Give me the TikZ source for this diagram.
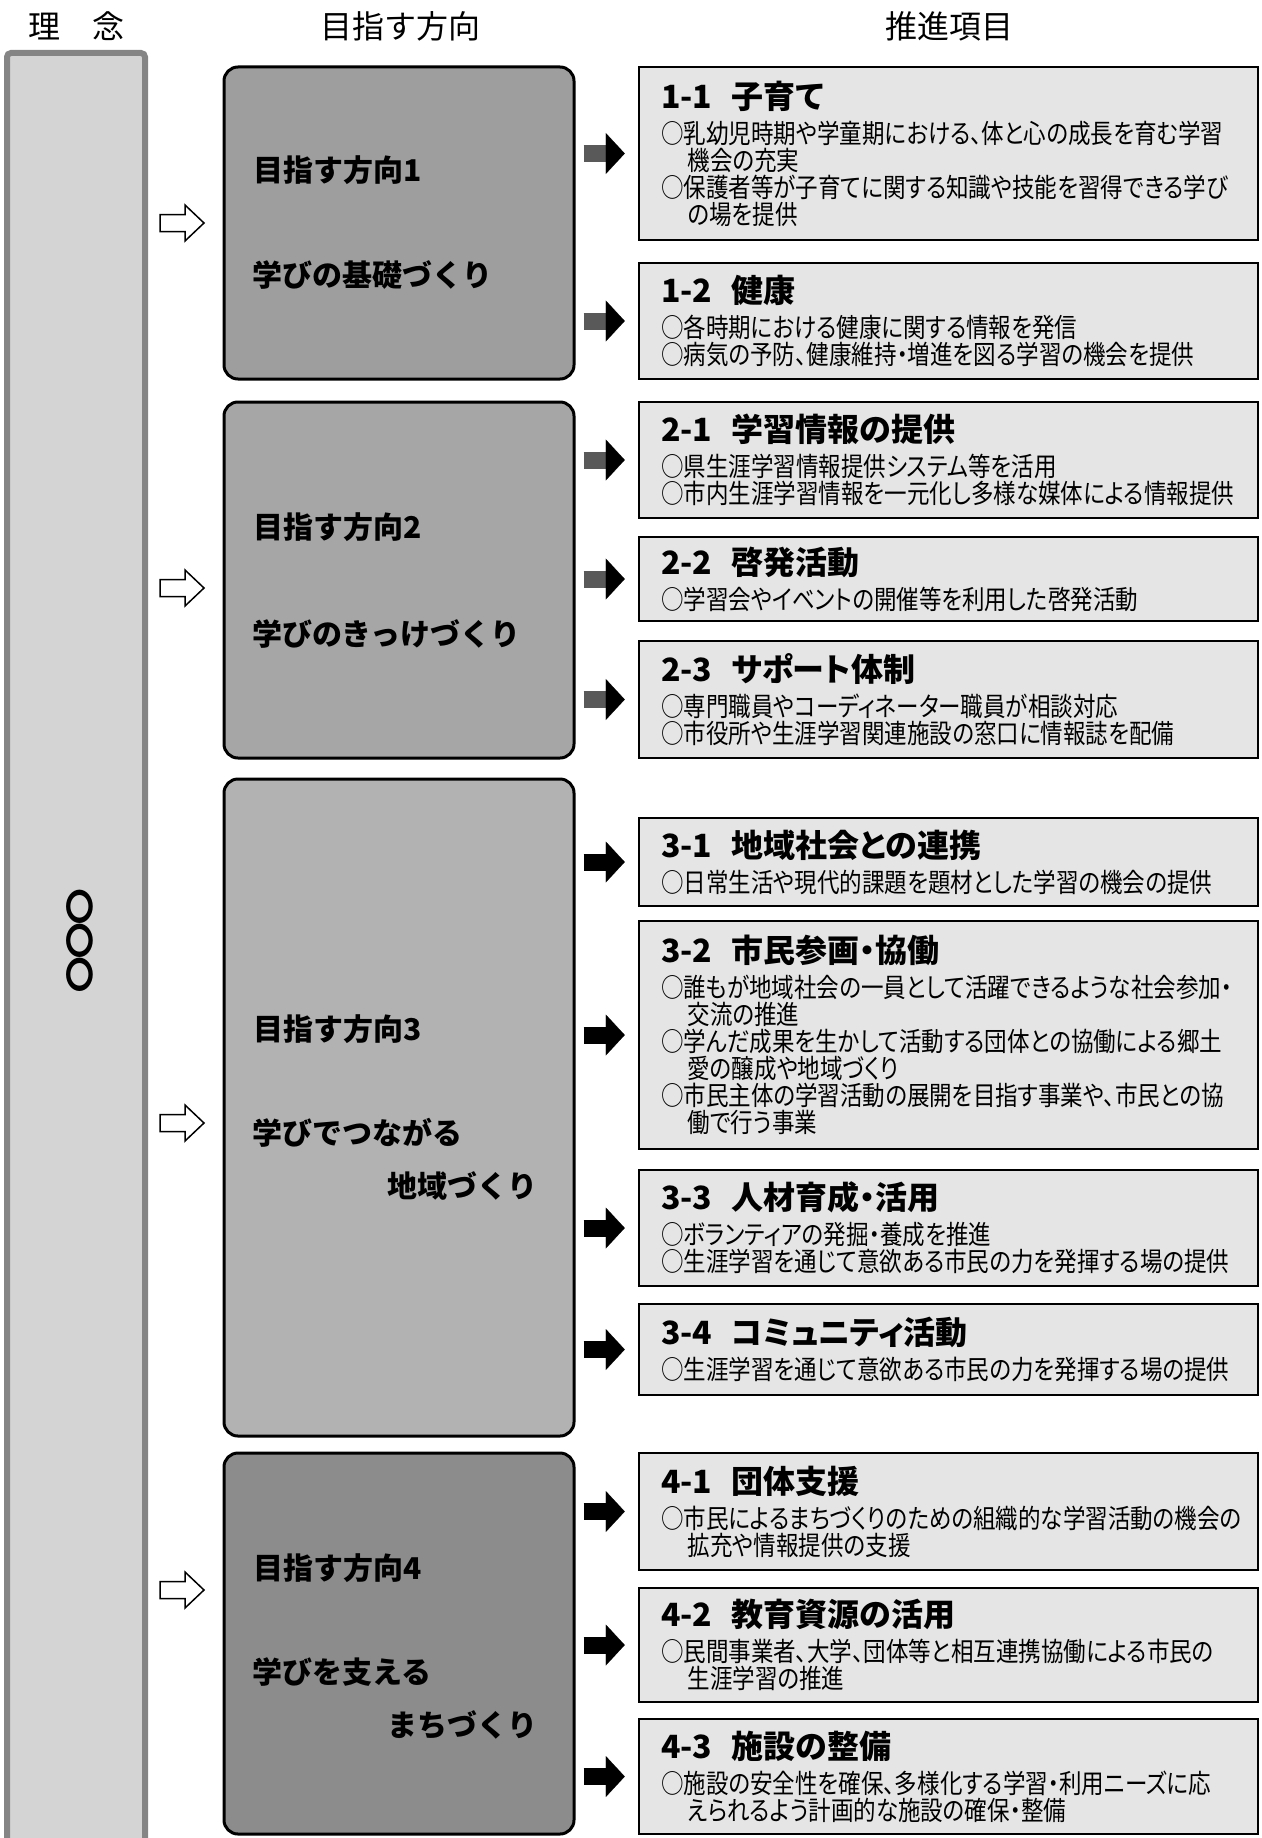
\documentclass[tikz,border=0pt]{standalone}
\usepackage{fontspec}
\setmainfont{Noto Sans CJK JP}
\newfontfamily\bodyfont[FakeStretch=0.85,RawFeature=+palt]{Noto Sans CJK JP}
\newfontfamily\titlefont[RawFeature=+palt]{Noto Sans CJK JP}
\newfontfamily\circfont[FakeStretch=0.8]{Noto Sans CJK JP}
\usepackage{tikz}
\usetikzlibrary{arrows.meta,calc}

\newcommand{\ind}{\hspace*{1em}}
\newcommand{\ttl}[2]{{\titlefont\bfseries\fontsize{32}{36}\selectfont #1\hspace{0.6em}#2}\\[8pt]}

\begin{document}
\begin{tikzpicture}[x=1pt, y=-1pt, semithick,
    itembox/.style={rectangle, draw=black, line width=2.5pt, fill=black!10, text width=575pt,
      inner xsep=22pt, inner ysep=0pt, align=left, font=\bodyfont\fontsize{26.5}{27}\selectfont},
    dirbox/.style={rectangle, draw=black, line width=3pt, rounded corners=14pt,
      minimum width=350pt, inner sep=0pt},
    dirlabel/.style={anchor=west, inner sep=0pt, font=\bfseries\fontsize{30}{30}\selectfont},
    header/.style={inner sep=0pt, font=\fontsize{32}{32}\selectfont},
    blackarrow/.style={line width=17pt, draw=black, shorten <=8pt, shorten >=13pt,
      -{Triangle[length=19pt, width=41pt, line width=0.1pt, color=black]}},
    greyarrow/.style={blackarrow, draw=black!65},
    hollowarrow/.pic={\draw[line width=1.5pt, fill=white] (0,-8.5) -- (25,-8.5) -- (25,-18)
      -- (44,0) -- (25,18) -- (25,8.5) -- (0,8.5) -- cycle;}]

  \useasboundingbox (0,0) rectangle (1261,1838);

  \node[header] (hidea) at (76,26) {理　念};
  \node[header] (hdir) at (400,26) {目指す方向};
  \node[header] (hitem) at (949,26) {推進項目};

  \node[rectangle, draw=black!48, line width=6pt, rounded corners=4pt, minimum width=138pt,
    minimum height=1792pt, fill=black!17] (idea) at (76,949) {};
  \node[align=center, inner sep=0pt, font=\circfont\bfseries\fontsize{36}{34}\selectfont]
    (circ) at (80,941) {〇\\〇\\〇};

  \node[dirbox, fill=black!38, minimum height=312pt] (dir1) at (399,223) {};
  \node[dirbox, fill=black!35, minimum height=356pt] (dir2) at (399,580) {};
  \node[dirbox, fill=black!30, minimum height=657pt] (dir3) at (399,1107.5) {};
  \node[dirbox, fill=black!45, minimum height=381pt] (dir4) at (399,1643.5) {};

  \node[dirlabel] (d1a) at (253,170) {目指す方向1};
  \node[dirlabel] (d1b) at (252,275) {学びの基礎づくり};
  \node[dirlabel] (d2a) at (253,527) {目指す方向2};
  \node[dirlabel] (d2b) at (252,634) {学びのきっけづくり};
  \node[dirlabel] (d3a) at (253,1029) {目指す方向3};
  \node[dirlabel] (d3b) at (252,1133) {学びでつながる};
  \node[dirlabel] (d3c) at (387,1186) {地域づくり};
  \node[dirlabel] (d4a) at (253,1568) {目指す方向4};
  \node[dirlabel] (d4b) at (252,1672) {学びを支える};
  \node[dirlabel] (d4c) at (387,1725) {まちづくり};

  \pic at (160,223) {hollowarrow};
  \pic at (160,588) {hollowarrow};
  \pic at (160,1123) {hollowarrow};
  \pic at (160,1590) {hollowarrow};

  \node[itembox, minimum height=173pt] (it11) at (948.5,153.5) {\ttl{1-1}{子育て}
    ○乳幼児時期や学童期における、体と心の成長を育む学習\\
    \ind 機会の充実\\
    ○保護者等が子育てに関する知識や技能を習得できる学び\\
    \ind の場を提供};
  \node[itembox, minimum height=116pt] (it12) at (948.5,321) {\ttl{1-2}{健康}
    ○各時期における健康に関する情報を発信\\
    ○病気の予防、健康維持・増進を図る学習の機会を提供};
  \node[itembox, minimum height=116pt] (it21) at (948.5,460) {\ttl{2-1}{学習情報の提供}
    ○県生涯学習情報提供システム等を活用\\
    ○市内生涯学習情報を一元化し多様な媒体による情報提供};
  \node[itembox, minimum height=84pt] (it22) at (948.5,579) {\ttl{2-2}{啓発活動}
    ○学習会やイベントの開催等を利用した啓発活動};
  \node[itembox, minimum height=117pt] (it23) at (948.5,699.5) {\ttl{2-3}{サポート体制}
    ○専門職員やコーディネーター職員が相談対応\\
    ○市役所や生涯学習関連施設の窓口に情報誌を配備};
  \node[itembox, minimum height=88pt] (it31) at (948.5,862) {\ttl{3-1}{地域社会との連携}
    ○日常生活や現代的課題を題材とした学習の機会の提供};
  \node[itembox, minimum height=228pt] (it32) at (948.5,1035) {\ttl{3-2}{市民参画・協働}
    ○誰もが地域社会の一員として活躍できるような社会参加・\\
    \ind 交流の推進\\
    ○学んだ成果を生かして活動する団体との協働による郷土\\
    \ind 愛の醸成や地域づくり\\
    ○市民主体の学習活動の展開を目指す事業や、市民との協\\
    \ind 働で行う事業};
  \node[itembox, minimum height=116pt] (it33) at (948.5,1228) {\ttl{3-3}{人材育成・活用}
    ○ボランティアの発掘・養成を推進\\
    ○生涯学習を通じて意欲ある市民の力を発揮する場の提供};
  \node[itembox, minimum height=91pt] (it34) at (948.5,1349.5) {\ttl{3-4}{コミュニティ活動}
    ○生涯学習を通じて意欲ある市民の力を発揮する場の提供};
  \node[itembox, minimum height=117pt] (it41) at (948.5,1511.5) {\ttl{4-1}{団体支援}
    ○市民によるまちづくりのための組織的な学習活動の機会の\\
    \ind 拡充や情報提供の支援};
  \node[itembox, minimum height=114pt] (it42) at (948.5,1645) {\ttl{4-2}{教育資源の活用}
    ○民間事業者、大学、団体等と相互連携協働による市民の\\
    \ind 生涯学習の推進};
  \node[itembox, minimum height=115pt] (it43) at (948.5,1776.5) {\ttl{4-3}{施設の整備}
    ○施設の安全性を確保、多様化する学習・利用ニーズに応\\
    \ind えられるよう計画的な施設の確保・整備};

  \draw[greyarrow] (dir1.east |- it11.west) -- (it11.west);
  \draw[greyarrow] (dir1.east |- it12.west) -- (it12.west);
  \draw[greyarrow] (dir2.east |- it21.west) -- (it21.west);
  \draw[greyarrow] (dir2.east |- it22.west) -- (it22.west);
  \draw[greyarrow] (dir2.east |- it23.west) -- (it23.west);
  \draw[blackarrow] (dir3.east |- it31.west) -- (it31.west);
  \draw[blackarrow] (dir3.east |- it32.west) -- (it32.west);
  \draw[blackarrow] (dir3.east |- it33.west) -- (it33.west);
  \draw[blackarrow] (dir3.east |- it34.west) -- (it34.west);
  \draw[blackarrow] (dir4.east |- it41.west) -- (it41.west);
  \draw[blackarrow] (dir4.east |- it42.west) -- (it42.west);
  \draw[blackarrow] (dir4.east |- it43.west) -- (it43.west);
\end{tikzpicture}
\end{document}
